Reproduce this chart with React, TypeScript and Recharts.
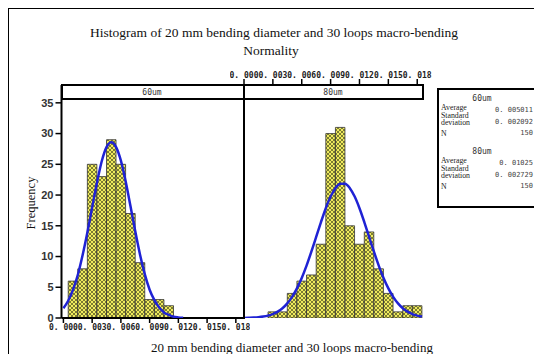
import React from "react";
import { ComposedChart, Bar, Line, XAxis, YAxis } from "recharts";

// ---- data ----
const binCenters60 = [0.001, 0.002, 0.003, 0.004, 0.005, 0.006, 0.007, 0.008, 0.009, 0.01, 0.011];
const counts60 = [6, 8, 25, 23, 29, 25, 17, 9, 3, 3, 2];
const binCenters80 = [0.003, 0.004, 0.005, 0.006, 0.007, 0.008, 0.009, 0.01, 0.011, 0.012, 0.013, 0.014, 0.015, 0.016, 0.017, 0.018];
const counts80 = [1, 1, 4, 6, 7, 12, 30, 31, 15, 12, 14, 8, 4, 1, 2, 2];

const curveX60 = [0, 0.0005, 0.001, 0.0015, 0.002, 0.0025, 0.003, 0.0035, 0.004, 0.0045, 0.005, 0.0055, 0.006, 0.0065, 0.007, 0.0075, 0.008, 0.0085, 0.009, 0.0095, 0.01, 0.0105, 0.011, 0.0115, 0.012, 0.0125];
const curveY60 = [1.6, 2.8, 4.6, 7.0, 10.2, 13.9, 18.0, 22.0, 25.5, 27.8, 28.6, 27.8, 25.6, 22.2, 18.2, 14.1, 10.3, 7.1, 4.6, 2.9, 1.7, 0.9, 0.5, 0.2, 0.1, 0.05];
const curveX80 = [0, 0.0005, 0.001, 0.0015, 0.002, 0.0025, 0.003, 0.0035, 0.004, 0.0045, 0.005, 0.0055, 0.006, 0.0065, 0.007, 0.0075, 0.008, 0.0085, 0.009, 0.0095, 0.01, 0.0105, 0.011, 0.0115, 0.012, 0.0125, 0.013, 0.0135, 0.014, 0.0145, 0.015, 0.0155, 0.016, 0.0165, 0.017, 0.0175, 0.018, 0.0185];
const curveY80 = [0.02, 0.04, 0.07, 0.13, 0.23, 0.39, 0.64, 1.03, 1.59, 2.38, 3.44, 4.82, 6.52, 8.53, 10.79, 13.19, 15.61, 17.86, 19.75, 21.12, 21.84, 21.84, 21.12, 19.75, 17.86, 15.61, 13.19, 10.79, 8.53, 6.52, 4.82, 3.44, 2.38, 1.59, 1.03, 0.64, 0.39, 0.23];

const xTicks = [0, 0.003, 0.006, 0.009, 0.012, 0.015, 0.018];
const xTickLabels = ["0. 000", "0. 003", "0. 006", "0. 009", "0. 012", "0. 015", "0. 018"];
const yTicks = [0, 5, 10, 15, 20, 25, 30, 35];

const panelNames = ["60um", "80um"];
const statMeans = ["0. 005011", "0. 01025"];
const statStds = ["0. 002092", "0. 002729"];
const statNs = ["150", "150"];

const titleLine1 = "Histogram of 20 mm bending diameter and 30 loops macro-bending";
const titleLine2 = "Normality";
const xTitle = "20 mm bending diameter and 30 loops macro-bending";
const yTitle = "Frequency";

// ---- tables built from arrays ----
const bars60 = binCenters60.map((x, i) => ({ x, count: counts60[i] }));
const bars80 = binCenters80.map((x, i) => ({ x, count: counts80[i] }));
const curve60 = curveX60.map((x, i) => ({ x, y: curveY60[i] }));
const curve80 = curveX80.map((x, i) => ({ x, y: curveY80[i] }));

const fmtX = (v: number) => {
  const i = xTicks.findIndex((t) => Math.abs(t - v) < 1e-9);
  return i >= 0 ? xTickLabels[i] : "";
};

const SERIF = "'Liberation Serif', 'Times New Roman', serif";
const MONO = "'DejaVu Sans Mono', monospace";
const SANS = "'Liberation Sans', Arial, sans-serif";

const Y_DOMAIN: [number, number] = [0, 37.9];
const X_DOMAIN_L: [number, number] = [-0.0002, 0.0188];
const X_DOMAIN_R: [number, number] = [0, 0.0186];

type TxtProps = { x: number; y: number; children: React.ReactNode; align?: "left" | "center" | "right"; style?: React.CSSProperties };
const Txt = ({ x, y, children, align = "center", style }: TxtProps) => {
  const tx = align === "center" ? "-50%" : align === "right" ? "-100%" : "0";
  return (
    <div
      style={{
        position: "absolute",
        left: x,
        top: y,
        transform: `translate(${tx}, -50%)`,
        whiteSpace: "nowrap",
        lineHeight: 1,
        ...style,
      }}
    >
      {children}
    </div>
  );
};

const xTickStyle = { fontSize: 8, fontFamily: MONO, fontWeight: "bold" as const, fill: "#222" };

export default function App() {
  const statLabel: React.CSSProperties = { fontFamily: SERIF, fontSize: 7.8, color: "#222", lineHeight: "7px" };
  const statVal: React.CSSProperties = { fontFamily: MONO, fontSize: 7, color: "#444", lineHeight: "7px" };
  const statHead: React.CSSProperties = { fontFamily: MONO, fontSize: 8, color: "#333" };

  return (
    <div style={{ position: "relative", width: 526, height: 346 }}>
      <svg width={0} height={0} style={{ position: "absolute" }}>
        <defs>
          <pattern id="hatch" width={4} height={4} patternUnits="userSpaceOnUse">
            <rect width={4} height={4} fill="#efeb5e" />
            <path d="M0,0 L4,4 M4,0 L0,4" stroke="#404018" strokeWidth={0.65} />
          </pattern>
        </defs>
      </svg>
      <div style={{ position: "absolute", left: -8, top: -8, width: 542, height: 362, background: "#fff" }}>
        {/* frame */}
        <div style={{ position: "absolute", left: 7, top: 7, width: 535, height: 355, borderTop: "2px solid #000", borderLeft: "2px solid #000", boxSizing: "border-box" }} />

        {/* titles */}
        <Txt x={274} y={33} style={{ fontFamily: SERIF, fontSize: 13.5, color: "#111" }}>{titleLine1}</Txt>
        <Txt x={271} y={51} style={{ fontFamily: SERIF, fontSize: 13.5, color: "#111" }}>{titleLine2}</Txt>
        <Txt x={292} y={347} style={{ fontFamily: SERIF, fontSize: 13, color: "#111" }}>{xTitle}</Txt>
        <div
          style={{
            position: "absolute",
            left: 31,
            top: 203,
            transform: "translate(-50%, -50%) rotate(-90deg)",
            fontFamily: SERIF,
            fontSize: 12.5,
            color: "#111",
            whiteSpace: "nowrap",
            lineHeight: 1,
          }}
        >
          {yTitle}
        </div>

        {/* left panel bars */}
        <div style={{ position: "absolute", left: 0, top: 60 }}>
          <ComposedChart width={250} height={280} data={bars60} margin={{ top: 25, right: 6.5, bottom: 2, left: 21.5 }} barCategoryGap={0} barGap={0}>
            <XAxis
              dataKey="x"
              type="number"
              domain={X_DOMAIN_L}
              ticks={xTicks}
              tickFormatter={fmtX}
              interval={0}
              height={20}
              tickSize={5}
              tickMargin={1}
              axisLine={{ stroke: "#000", strokeWidth: 2 }}
              tickLine={{ stroke: "#000", strokeWidth: 1.5 }}
              tick={xTickStyle}
              allowDataOverflow
            />
            <YAxis
              type="number"
              domain={Y_DOMAIN}
              ticks={yTicks}
              interval={0}
              width={40}
              tickSize={6}
              tickMargin={2}
              axisLine={{ stroke: "#000", strokeWidth: 2 }}
              tickLine={{ stroke: "#000", strokeWidth: 1.5 }}
              tick={{ fontSize: 11, fontFamily: SANS, fontWeight: "bold", fill: "#333" }}
              allowDataOverflow
            />
            <Bar dataKey="count" fill="url(#hatch)" stroke="#333" strokeWidth={0.8} barSize={9.5} isAnimationActive={false} />
          </ComposedChart>
        </div>
        {/* left panel curve */}
        <div style={{ position: "absolute", left: 0, top: 60 }}>
          <ComposedChart width={250} height={280} data={curve60} margin={{ top: 25, right: 6.5, bottom: 22, left: 61.5 }}>
            <XAxis dataKey="x" type="number" domain={X_DOMAIN_L} hide allowDataOverflow />
            <YAxis type="number" domain={Y_DOMAIN} hide allowDataOverflow />
            <Line dataKey="y" type="monotone" stroke="#1f22d4" strokeWidth={2.5} dot={false} isAnimationActive={false} />
          </ComposedChart>
        </div>

        {/* right panel bars */}
        <div style={{ position: "absolute", left: 230, top: 60 }}>
          <ComposedChart width={210} height={280} data={bars80} margin={{ top: 5, right: 17, bottom: 22, left: 14 }} barCategoryGap={0} barGap={0}>
            <XAxis
              dataKey="x"
              type="number"
              orientation="top"
              domain={X_DOMAIN_R}
              ticks={xTicks}
              tickFormatter={fmtX}
              interval={0}
              height={20}
              tickSize={6}
              tickMargin={1}
              axisLine={false}
              tickLine={{ stroke: "#000", strokeWidth: 1.5 }}
              tick={xTickStyle}
              allowDataOverflow
            />
            <YAxis type="number" domain={Y_DOMAIN} hide allowDataOverflow />
            <Bar dataKey="count" fill="url(#hatch)" stroke="#333" strokeWidth={0.8} barSize={9.5} isAnimationActive={false} />
          </ComposedChart>
        </div>
        {/* right panel curve */}
        <div style={{ position: "absolute", left: 230, top: 60 }}>
          <ComposedChart width={210} height={280} data={curve80} margin={{ top: 25, right: 17, bottom: 22, left: 14 }}>
            <XAxis dataKey="x" type="number" domain={X_DOMAIN_R} hide allowDataOverflow />
            <YAxis type="number" domain={Y_DOMAIN} hide allowDataOverflow />
            <Line dataKey="y" type="monotone" stroke="#1f22d4" strokeWidth={2.5} dot={false} isAnimationActive={false} />
          </ComposedChart>
        </div>

        {/* panel header strip + divider */}
        <div style={{ position: "absolute", left: 60.5, top: 84, width: 363.5, height: 16, border: "2px solid #000", boxSizing: "border-box", background: "#fff" }} />
        <div style={{ position: "absolute", left: 243, top: 84, width: 2, height: 235, background: "#000" }} />
        <Txt x={152} y={92.5} style={{ fontFamily: MONO, fontSize: 8, color: "#333" }}>{panelNames[0]}</Txt>
        <Txt x={333} y={92.5} style={{ fontFamily: MONO, fontSize: 8, color: "#333" }}>{panelNames[1]}</Txt>

        {/* stats box */}
        <div style={{ position: "absolute", left: 437, top: 88, width: 102, height: 120, border: "2px solid #000", boxSizing: "border-box", background: "#fff" }} />
        {[0, 1].map((k) => {
          const o = k * 53;
          return (
            <React.Fragment key={k}>
              <Txt x={482} y={98.5 + o} style={statHead}>{panelNames[k]}</Txt>
              <Txt x={441} y={106.5 + o} align="left" style={statLabel}>Average</Txt>
              <Txt x={533} y={110 + o} align="right" style={statVal}>{statMeans[k]}</Txt>
              <Txt x={441} y={119 + o} align="left" style={{ ...statLabel, whiteSpace: "pre" }}>{"Standard\ndeviation"}</Txt>
              <Txt x={533} y={122 + o} align="right" style={statVal}>{statStds[k]}</Txt>
              <Txt x={441} y={132.5 + o} align="left" style={statLabel}>N</Txt>
              <Txt x={533} y={132.5 + o} align="right" style={statVal}>{statNs[k]}</Txt>
            </React.Fragment>
          );
        })}
      </div>
    </div>
  );
}
